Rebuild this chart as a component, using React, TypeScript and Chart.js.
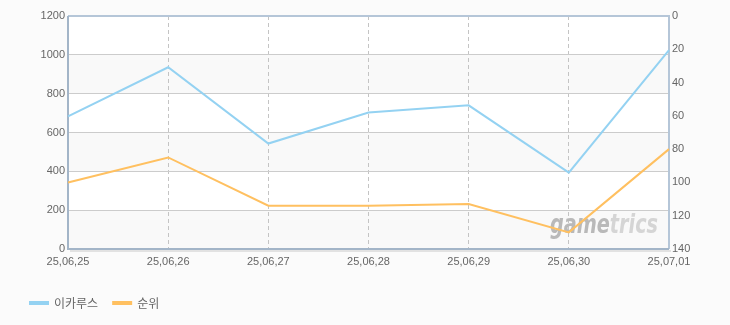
import React, { useEffect, useRef } from "react";
import { Chart, registerables } from "chart.js";

Chart.register(...registerables);

const categories = ["25,06,25", "25,06,26", "25,06,27", "25,06,28", "25,06,29", "25,06,30", "25,07,01"];
const visitorValues = [683, 936, 543, 703, 740, 393, 1024];
const rankValues = [100, 85, 114, 114, 113, 130, 80];
const seriesNames = ["이카루스", "순위"];

const FONT = "'Liberation Sans', 'Noto Sans CJK KR', sans-serif";

const decorPlugin = {
  id: "decor",
  beforeDraw(chart: any) {
    const { ctx, chartArea } = chart;
    ctx.save();
    ctx.fillStyle = "#fbfbfb";
    ctx.fillRect(0, 0, chart.width, chart.height);
    ctx.fillStyle = "#ffffff";
    ctx.fillRect(chartArea.left, chartArea.top, chartArea.right - chartArea.left, chartArea.bottom - chartArea.top);
    const y = chart.scales.y;
    ctx.fillStyle = "#f9f9f9";
    for (let v = 0; v < 1200; v += 400) {
      const y1 = y.getPixelForValue(v);
      const y2 = y.getPixelForValue(v + 200);
      ctx.fillRect(chartArea.left, y2, chartArea.right - chartArea.left, y1 - y2);
    }
    ctx.restore();
  },
  beforeDatasetsDraw(chart: any) {
    const { ctx, chartArea } = chart;
    ctx.save();
    // watermark
    ctx.font = "italic bold 26px 'DejaVu Sans', sans-serif";
    ctx.textBaseline = "alphabetic";
    const w1 = ctx.measureText("game").width;
    const w2 = ctx.measureText("trics").width;
    const targetW = 108;
    const sx = targetW / (w1 + w2);
    const wx = chartArea.right - 119;
    const wy = chartArea.bottom - 16;
    ctx.translate(wx, wy);
    ctx.scale(sx, 1);
    ctx.fillStyle = "#b9b9b9";
    ctx.fillText("game", 0, 0);
    ctx.fillStyle = "#d5d5d5";
    ctx.fillText("trics", w1, 0);
    ctx.restore();
    ctx.save();
    // frame
    ctx.lineWidth = 2;
    ctx.strokeStyle = "#b5c6d8";
    ctx.beginPath();
    ctx.moveTo(chartArea.left, chartArea.top);
    ctx.lineTo(chartArea.right, chartArea.top);
    ctx.lineTo(chartArea.right, chartArea.bottom);
    ctx.stroke();
    ctx.strokeStyle = "#e2e2e2";
    ctx.beginPath();
    ctx.moveTo(chartArea.left + 2, chartArea.bottom + 2);
    ctx.lineTo(chartArea.right + 2, chartArea.bottom + 2);
    ctx.stroke();
    ctx.strokeStyle = "#a3b5c8";
    ctx.beginPath();
    ctx.moveTo(chartArea.left, chartArea.top);
    ctx.lineTo(chartArea.left, chartArea.bottom);
    ctx.lineTo(chartArea.right, chartArea.bottom);
    ctx.stroke();
    ctx.restore();
  },
};

export default function App() {
  const ref = useRef<HTMLCanvasElement>(null);
  useEffect(() => {
    document.body.style.margin = "0";
    document.body.style.background = "#fbfbfb";
    const plain = (v: any) => String(v);
    const chart = new Chart(ref.current as HTMLCanvasElement, {
      type: "line",
      data: {
        labels: categories,
        datasets: [
          {
            label: seriesNames[0],
            data: visitorValues,
            borderColor: "#94d2f2",
            backgroundColor: "#94d2f2",
            borderWidth: 2,
            pointRadius: 0,
            tension: 0,
            yAxisID: "y",
          },
          {
            label: seriesNames[1],
            data: rankValues,
            borderColor: "#ffc060",
            backgroundColor: "#ffc060",
            borderWidth: 2,
            pointRadius: 0,
            tension: 0,
            yAxisID: "y1",
          },
        ],
      },
      options: {
        animation: false,
        responsive: false,
        layout: { padding: { top: 16, left: 15, right: 0, bottom: 6 } },
        plugins: {
          tooltip: { enabled: false },
          legend: {
            position: "bottom",
            align: "start",
            labels: {
              boxWidth: 18,
              boxHeight: 2,
              padding: 15,
              color: "#666",
              font: { family: "'Noto Sans CJK KR', sans-serif", size: 12 },
            },
          },
        },
        scales: {
          x: {
            type: "category",
            offset: false,
            grid: { color: "#c4c4c4", drawTicks: false },
            border: { display: false, dash: [4, 3] },
            ticks: { color: "#666", padding: 6, maxRotation: 0, autoSkip: false, font: { family: FONT, size: 11 } },
            afterFit(s: any) {
              s.height = 33;
            },
          },
          y: {
            position: "left",
            min: 0,
            max: 1200,
            ticks: { stepSize: 200, color: "#666", padding: 3, callback: plain, font: { family: FONT, size: 11 } },
            grid: { color: "#cccccc", drawTicks: false },
            border: { display: false },
            afterFit(s: any) {
              s.width = 53;
            },
          },
          y1: {
            position: "right",
            min: 0,
            max: 140,
            reverse: true,
            ticks: { stepSize: 20, color: "#666", padding: 3, callback: plain, font: { family: FONT, size: 11 } },
            grid: { display: false, drawTicks: false },
            border: { display: false },
            afterFit(s: any) {
              s.width = 61;
            },
          },
        },
      },
      plugins: [decorPlugin],
    } as any);
    return () => chart.destroy();
  }, []);
  return (
    <div style={{ width: 730, height: 325 }}>
      <canvas ref={ref} width={730} height={325} />
    </div>
  );
}
